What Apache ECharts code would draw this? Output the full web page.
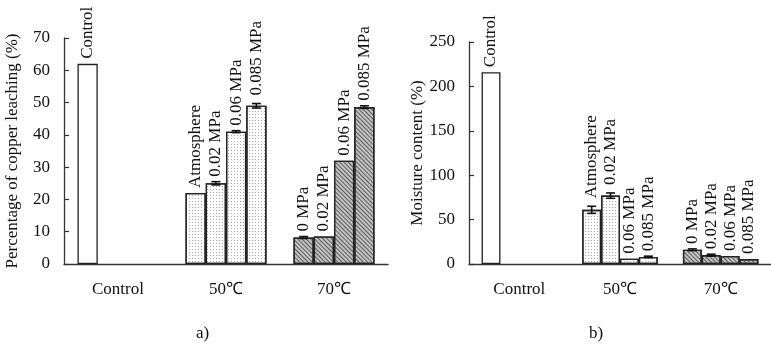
<!DOCTYPE html>
<html>
<head>
<meta charset="utf-8">
<script src="https://cdn.jsdelivr.net/npm/echarts@6/dist/echarts.min.js"></script>
<style>html,body{margin:0;padding:0;background:#fff}#c{width:771px;height:346px}</style>
</head>
<body>
<div id="c"></div>
<script>
// ---- data ----
var categories = ['Control', '50℃', '70℃'];
var slotLabels = [
  ['Control', 'Atmosphere', '0 MPa'],
  [null, '0.02 MPa', '0.02 MPa'],
  [null, '0.06 MPa', '0.06 MPa'],
  [null, '0.085 MPa', '0.085 MPa']
];
// a) Percentage of copper leaching (%)
var leach1 = [62, 22, 8.2];
var leach2 = [null, 25, 8.5];
var leach3 = [null, 41, 32];
var leach4 = [null, 49, 48.6];
var leachErr1 = [0, 0, 0.3];
var leachErr2 = [null, 0.5, 0];
var leachErr3 = [null, 0.3, 0];
var leachErr4 = [null, 0.7, 0.4];
var leachTicks = [0, 70, 10];
// b) Moisture content (%)
var moist1 = [216, 61, 16];
var moist2 = [null, 77, 10];
var moist3 = [null, 6, 9];
var moist4 = [null, 8, 5.5];
var moistErr1 = [0, 4, 1];
var moistErr2 = [null, 3, 1];
var moistErr3 = [null, 0, 0];
var moistErr4 = [null, 0.8, 0];
var moistTicks = [0, 250, 50];

// ---- styles ----
var FONT = 'Liberation Serif';
var FS = 17;
var fills = [
  {color: '#ffffff', borderColor: '#222', borderWidth: 1.3},
  {color: '#ffffff', borderColor: '#222', borderWidth: 1.3,
   decal: {symbol: 'rect', symbolSize: 1, dashArrayX: [1, 2], dashArrayY: [1, 2], color: '#a8a8a8'}},
  {color: '#c4c4c4', borderColor: '#222', borderWidth: 1.3,
   decal: {symbol: 'rect', symbolSize: 1, dashArrayX: [1, 0], dashArrayY: [1, 1.5], rotation: Math.PI / 4, color: '#5a5a5a'}}
];
var GAP = 0.25;

function barSeries(vals, errs, slot, gridIdx, pxPerUnit) {
  return {
    type: 'bar', xAxisIndex: gridIdx, yAxisIndex: gridIdx,
    barGap: '0%', barCategoryGap: (GAP * 100) + '%',
    data: vals.map(function (v, i) {
      if (v == null) return null;
      var e = errs[i] || 0;
      return {
        value: v,
        itemStyle: fills[i],
        label: {
          show: true, position: 'top', rotate: 90, align: 'left', verticalAlign: 'middle',
          distance: 5 + e * pxPerUnit + (e * pxPerUnit > 2 ? 3 : 0),
          formatter: slotLabels[slot][i],
          fontFamily: FONT, fontSize: FS, color: '#111'
        }
      };
    })
  };
}

function errSeries(valsList, errsList, gridIdx) {
  var d = [];
  valsList.forEach(function (vals, slot) {
    vals.forEach(function (v, i) {
      var e = errsList[slot][i];
      if (v != null && e) d.push([i, v, e, slot]);
    });
  });
  return {
    type: 'custom', xAxisIndex: gridIdx, yAxisIndex: gridIdx, z: 5,
    data: d,
    renderItem: function (params, api) {
      var ci = api.value(0), v = api.value(1), e = api.value(2), slot = api.value(3);
      var catW = api.size([1, 0])[0];
      var barW = catW * (1 - GAP) / 4;
      var c = api.coord([ci, v]);
      var x = c[0] - catW * (1 - GAP) / 2 + barW * (slot + 0.5);
      var top = api.coord([ci, v + e])[1];
      var bot = api.coord([ci, v - e])[1];
      var hw = 4.5;
      var st = {stroke: '#111', lineWidth: 1.6};
      return {type: 'group', children: [
        {type: 'line', shape: {x1: x, y1: top, x2: x, y2: bot}, style: st},
        {type: 'line', shape: {x1: x - hw, y1: top, x2: x + hw, y2: top}, style: st},
        {type: 'line', shape: {x1: x - hw, y1: bot, x2: x + hw, y2: bot}, style: st}
      ]};
    }
  };
}

function xAxisFor(gridIdx) {
  return {
    type: 'category', gridIndex: gridIdx, data: categories,
    axisLine: {lineStyle: {color: '#333', width: 1.3}},
    axisTick: {inside: true, length: 6, lineStyle: {color: '#333', width: 1.2}},
    axisLabel: {margin: 17, fontFamily: FONT, fontSize: FS, color: '#111'}
  };
}
function yAxisFor(gridIdx, ticks, name) {
  return {
    type: 'value', gridIndex: gridIdx, min: ticks[0], max: ticks[1], interval: ticks[2],
    name: name, nameLocation: 'middle', nameGap: 43, nameRotate: 90,
    nameTextStyle: {fontFamily: FONT, fontSize: FS, color: '#111'},
    axisLine: {show: true, lineStyle: {color: '#333', width: 1.3}},
    axisTick: {show: true, inside: true, length: 5, lineStyle: {color: '#333', width: 1.2}},
    axisLabel: {margin: 14, fontFamily: FONT, fontSize: FS, color: '#111'},
    splitLine: {show: false}
  };
}

var leachVals = [leach1, leach2, leach3, leach4];
var leachErrs = [leachErr1, leachErr2, leachErr3, leachErr4];
var moistVals = [moist1, moist2, moist3, moist4];
var moistErrs = [moistErr1, moistErr2, moistErr3, moistErr4];

var series = [];
leachVals.forEach(function (v, s) { series.push(barSeries(v, leachErrs[s], s, 0, 226 / 70)); });
series.push(errSeries(leachVals, leachErrs, 0));
moistVals.forEach(function (v, s) { series.push(barSeries(v, moistErrs[s], s, 1, 222 / 250)); });
series.push(errSeries(moistVals, moistErrs, 1));

var chart = echarts.init(document.getElementById('c'), null, {renderer: 'canvas'});
chart.setOption({
  animation: false,
  backgroundColor: '#fff',
  grid: [
    {left: 64, top: 38, width: 324, height: 226},
    {left: 469, top: 42, width: 308, height: 222}
  ],
  xAxis: [xAxisFor(0), xAxisFor(1)],
  yAxis: [yAxisFor(0, leachTicks, 'Percentage of copper leaching (%)'), yAxisFor(1, moistTicks, 'Moisture content (%)')],
  graphic: [
    {type: 'text', left: 196, top: 325, style: {text: 'a)', font: '17px "Liberation Serif"', fill: '#111'}},
    {type: 'text', left: 589, top: 325, style: {text: 'b)', font: '17px "Liberation Serif"', fill: '#111'}}
  ],
  series: series
});
</script>
</body>
</html>
